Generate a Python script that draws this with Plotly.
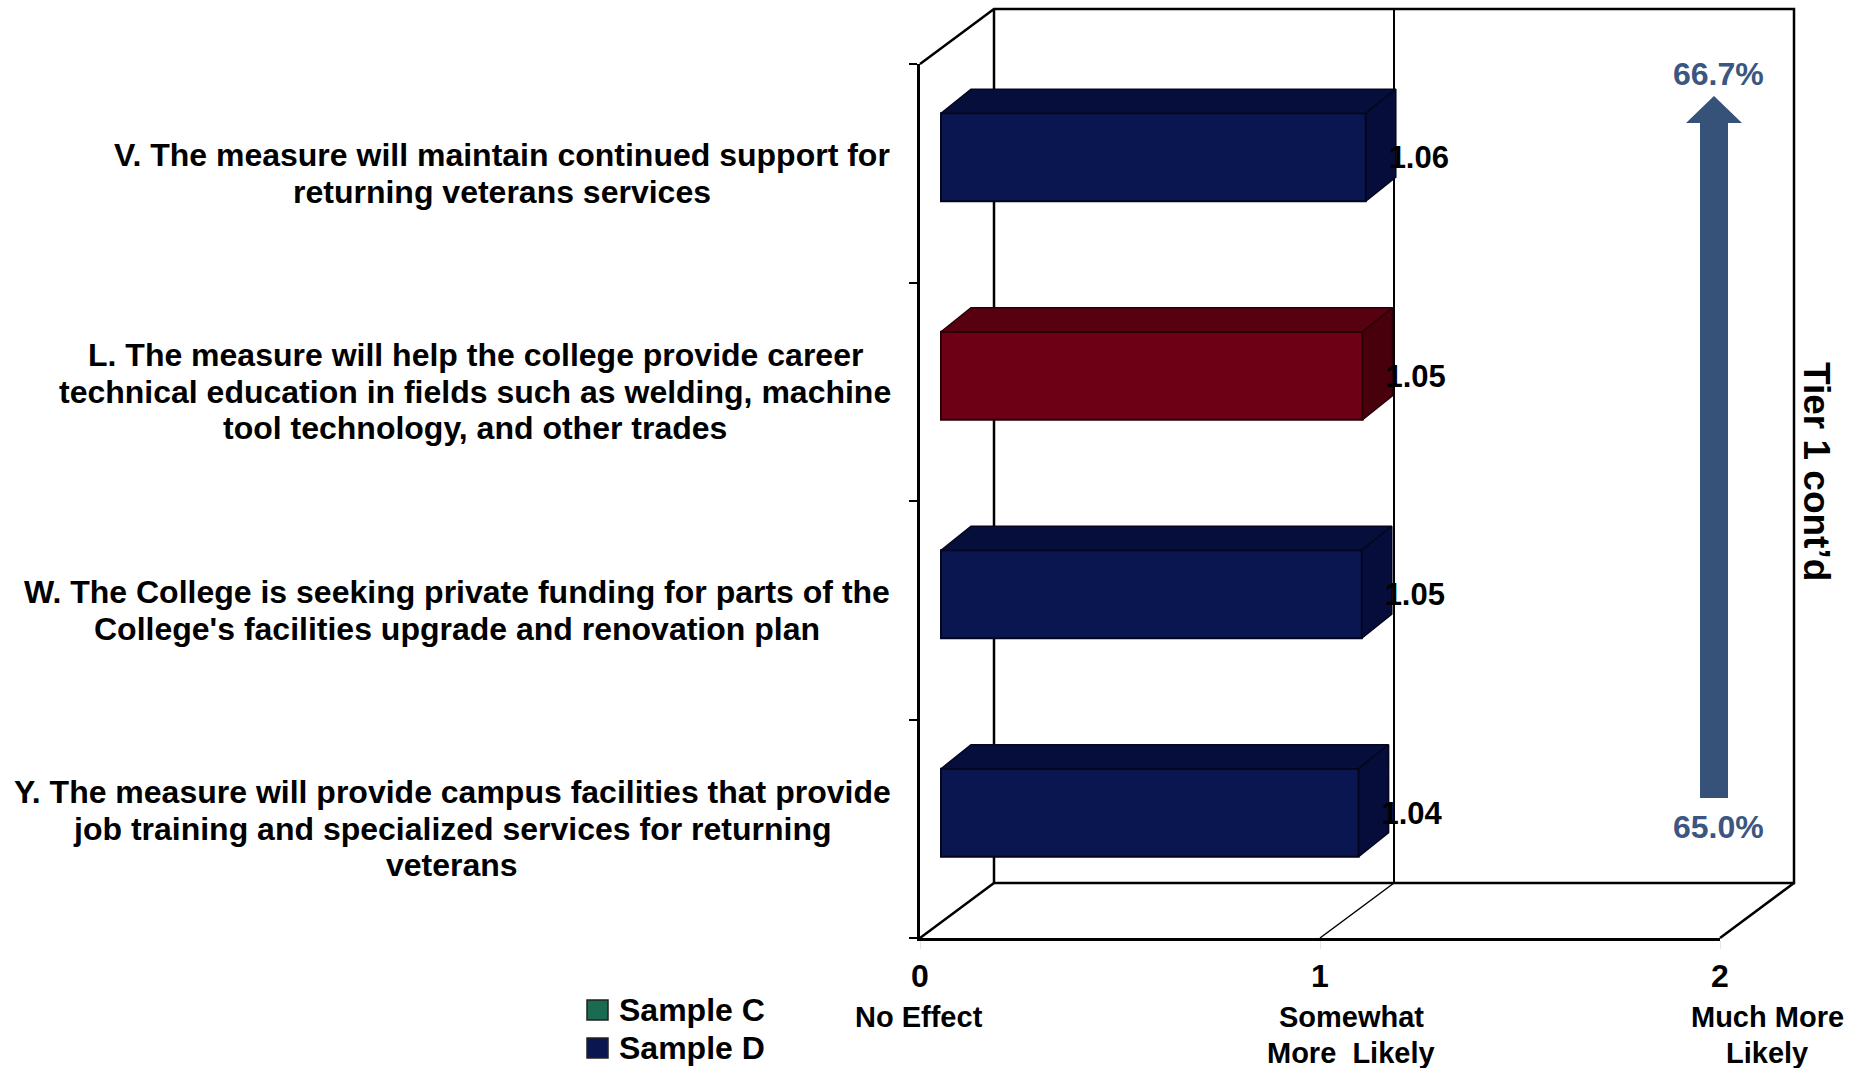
"""Tier 1 cont'd: pseudo-3D bar chart of mean likelihood ratings."""

import plotly.graph_objects as go

W, H = 1858, 1068
FONT = "Liberation Sans"

categories = [
    "V. The measure will maintain continued support for<br>returning veterans services",
    "L. The measure will help the college provide career<br>technical education in fields such as welding, machine<br>tool technology, and other trades",
    "W. The College is seeking private funding for parts of the<br>College's facilities upgrade and renovation plan",
    "Y. The measure will provide campus facilities that provide<br>job training and specialized services for returning<br>veterans",
]
values = [1.062, 1.054, 1.052, 1.044]
bar_keys = ["D", "L", "D", "D"]
row_pos = [3.5, 2.5, 1.5, 0.5]
x_ticks = [0, 1, 2]
x_tick_names = ["No Effect", "Somewhat<br>More  Likely", "Much More<br>Likely"]
y_ticks = [0, 1, 2, 3, 4]
legend_names = ["Sample C", "Sample D"]
legend_colors = ["#1a6b52", "#0a1650"]
tier_top = "66.7%"
tier_bottom = "65.0%"

# pixel layout of the plot box (front plane of the fake 3D box)
L, R, T, B = 920, 1720, 64, 938
PX = (R - L) / x_ticks[-1]
PY = (B - T) / y_ticks[-1]
DX, DY = 74 / PX, 55 / PY  # box depth
BAR_X = 21 / PX  # bar front face offset from the front plane
BAR_LIFT = 16 / PY
BAR_DX, BAR_DY = 30 / PX, 24 / PY  # bar depth
BAR_H = 88 / PY
LINE = 36.7  # text line pitch in pixels

FRONT = {"D": "#0a1650", "L": "#6e0016"}
TOP = {"D": "#060e3c", "L": "#570010"}
SIDE = {"D": "#060d3a", "L": "#48000c"}
EDGE = {"D": "#03061c", "L": "#280006"}


# paper coordinates run over the plot box, not the page
def px(x):
    return (x - L) / (R - L)


def py(y):
    return (B - y) / (B - T)


x_end = x_ticks[-1]
y_end = y_ticks[-1]


def frame_line(xs, ys, width):
    path = "M" + " L".join(f"{x / x_end},{y / y_end}" for x, y in zip(xs, ys))
    return dict(type="path", xref="paper", yref="paper", path=path, layer="below",
                line=dict(color="black", width=width))


shapes = [
    frame_line([0, DX, x_end + DX, x_end + DX, DX, DX], [y_end, y_end + DY, y_end + DY, DY, DY, y_end + DY], 2.5),
    frame_line([0, DX], [0, DY], 2.5),
    frame_line([x_end, x_end + DX], [0, DY], 2.5),
    frame_line([x_ticks[1], x_ticks[1] + DX], [0, DY], 1.5),
    frame_line([x_ticks[1] + DX, x_ticks[1] + DX], [DY, y_end + DY], 2),
]

fig = go.Figure()

bar_y = [p + BAR_LIFT for p in row_pos]

fig.add_trace(go.Bar(x=values, y=bar_y, base=BAR_X, orientation="h", width=BAR_H,
                     marker=dict(color=[FRONT[k] for k in bar_keys],
                                 line=dict(color=[EDGE[k] for k in bar_keys], width=2)),
                     showlegend=False))

for val, yc, key in zip(values, bar_y, bar_keys):
    y0, y1 = yc - BAR_H / 2, yc + BAR_H / 2
    x0, x1 = BAR_X, BAR_X + val
    # top face
    fig.add_trace(go.Scatter(x=[x0, x0 + BAR_DX, x1 + BAR_DX, x1, x0],
                             y=[y1, y1 + BAR_DY, y1 + BAR_DY, y1, y1],
                             mode="lines", fill="toself", fillcolor=TOP[key],
                             line=dict(color=EDGE[key], width=1.5), hoverinfo="skip", showlegend=False))
    # side face
    fig.add_trace(go.Scatter(x=[x1, x1 + BAR_DX, x1 + BAR_DX, x1, x1],
                             y=[y1, y1 + BAR_DY, y0 + BAR_DY, y0, y1],
                             mode="lines", fill="toself", fillcolor=SIDE[key],
                             line=dict(color=EDGE[key], width=1.5), hoverinfo="skip", showlegend=False))

fig.add_trace(go.Scatter(x=[v + BAR_X + 53 / PX for v in values], y=[y - 3 / PY for y in bar_y], mode="text",
                         text=[f"{v:.2f}" for v in values], textposition="middle center",
                         textfont=dict(family=FONT, size=31, color="black", weight="bold"),
                         cliponaxis=False, showlegend=False))

annotations = []


def note(text, x, y, size, color="black", xanchor="center", angle=0):
    annotations.append(dict(text=f"<b>{text}</b>", x=px(x), y=py(y), xref="paper", yref="paper",
                            xanchor=xanchor, yanchor="middle", align="center", showarrow=False,
                            textangle=angle, font=dict(family=FONT, size=size, color=color)))


# plotly's own line pitch is too wide here, so every line is placed on its own
def block(text, x_center, y_center, size):
    lines = text.split("<br>")
    for k, line in enumerate(lines):
        note(line, x_center, y_center + (k - (len(lines) - 1) / 2) * LINE, size)


for label, p, x_center in zip(categories, row_pos, [502, 475, 457, 452]):
    block(label, x_center, B - p * PY, 32)

for name, x, y in zip(x_tick_names, [919, 1351, 1767], [1017, 1035, 1035]):
    block(name, x, y, 29)

note(tier_top, 1718, 74, 32, "#3b5680")
note(tier_bottom, 1718, 827, 32, "#3b5680")
note("Tier 1 cont’d", 1817, 471, 37, angle=90)

shapes.append(dict(type="path", xref="paper", yref="paper", fillcolor="#375278", line=dict(width=0),
                   path=(f"M{px(1700)},{py(798)} L{px(1700)},{py(123)} L{px(1686)},{py(123)} L{px(1714)},{py(96)} "
                         f"L{px(1742)},{py(123)} L{px(1728)},{py(123)} L{px(1728)},{py(798)} Z")))

for name, col, y in zip(legend_names, legend_colors, [1010, 1048]):
    shapes.append(dict(type="rect", xref="paper", yref="paper", x0=px(587), x1=px(608),
                       y0=py(y + 10), y1=py(y - 10), fillcolor=col, line=dict(color="#222222", width=1.5)))
    note(name, 617, y, 32, xanchor="left")

fig.update_layout(
    width=W, height=H, autosize=False,
    margin=dict(l=L, r=W - R, t=T, b=H - B, pad=0),
    paper_bgcolor="white", plot_bgcolor="rgba(0,0,0,0)", showlegend=False,
    annotations=annotations, shapes=shapes,
    xaxis=dict(range=[0, x_end], tickvals=x_ticks, ticktext=[str(t) for t in x_ticks], showgrid=False,
               zeroline=False, showline=True, linecolor="black", linewidth=3, ticks="outside", ticklen=8,
               tickwidth=1, tickcolor="#e6e6d8", tickfont=dict(family=FONT, size=32, color="black", weight="bold")),
    yaxis=dict(range=[0, y_end], tickvals=y_ticks, showticklabels=False, showgrid=False, zeroline=False,
               showline=True, linecolor="black", linewidth=2.5, ticks="outside", ticklen=8, tickwidth=2,
               tickcolor="black"),
)

fig.write_html("out.html", config=dict(displayModeBar=False), post_script="document.body.style.margin='0';")
